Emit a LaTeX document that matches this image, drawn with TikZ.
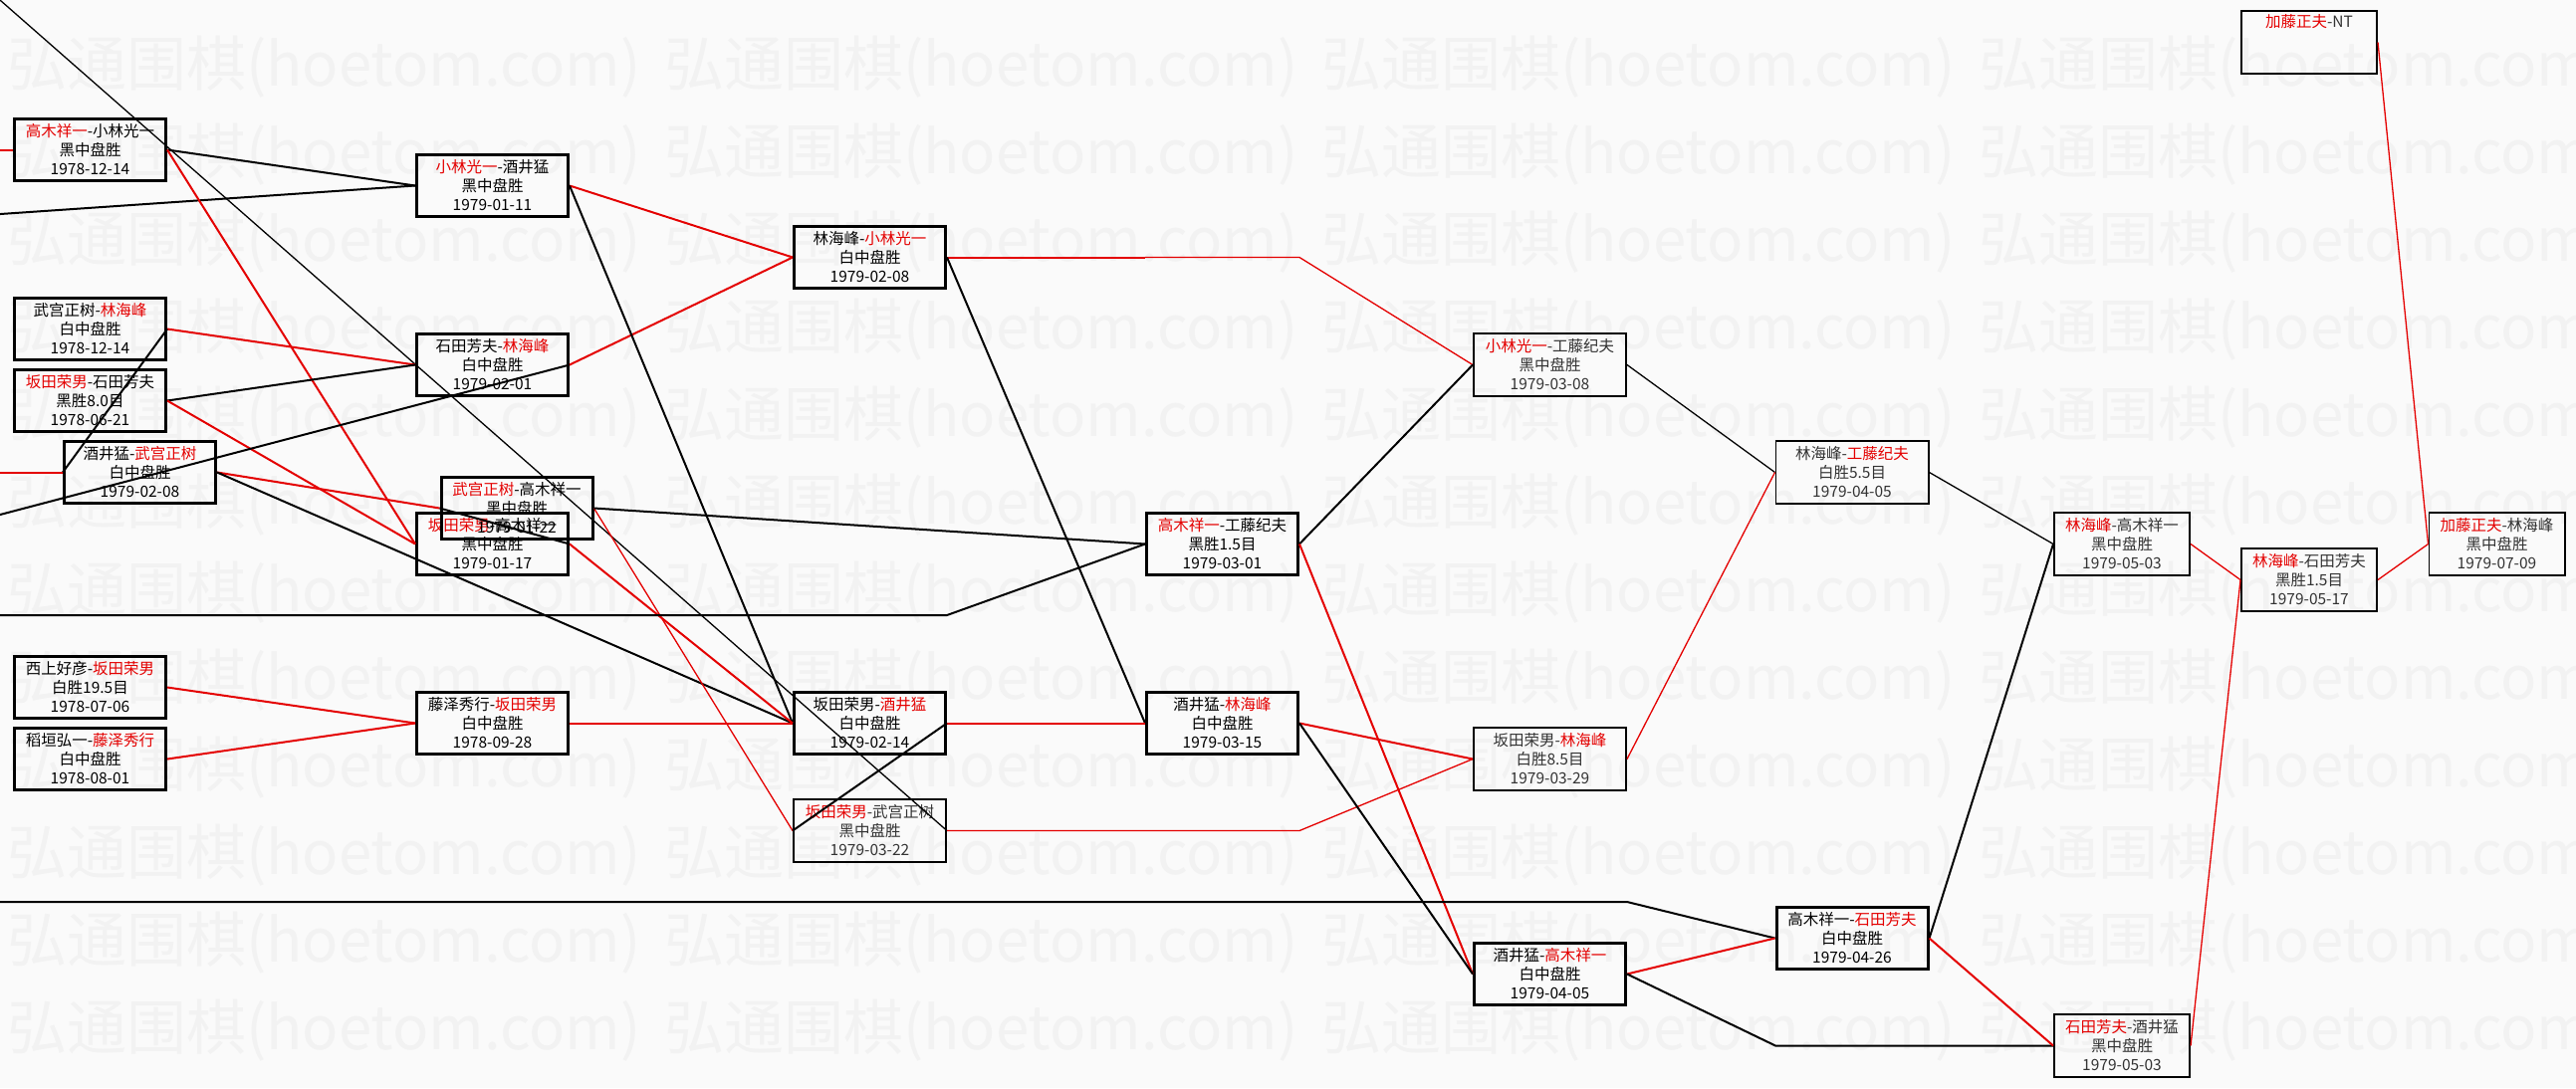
\documentclass[tikz,border=0pt]{standalone}
\usepackage{fontspec}
\setmainfont{Noto Sans CJK SC}
\definecolor{hred}{RGB}{228,0,0}
\definecolor{pagebg}{RGB}{250,250,250}
\definecolor{wmgray}{RGB}{242,242,242}
\newcommand\winner[1]{\textcolor{hred}{#1}}
\tikzset{
  game/.style={draw=black, line width=3pt, minimum width=152pt, minimum height=62pt,
    inner sep=0pt, align=center, font=\fontsize{15.5}{19}\selectfont},
  gamethin/.style={game, line width=1.6pt, text=black!80, minimum width=153.4pt, minimum height=63.4pt},
  narrow/.style={minimum width=136.4pt},
  winline/.style={hred, line width=2pt},
  loseline/.style={black, line width=2pt},
  winthin/.style={hred, line width=1.3pt},
  losethin/.style={black, line width=1.3pt},
  wmark/.style={wmgray, font=\fontsize{60}{60}\selectfont, inner sep=0pt, anchor=west}
}
\begin{document}
\begin{tikzpicture}[x=1pt,y=-1pt]
  \useasboundingbox (0,0) rectangle (2587,1093);
  \clip (0,0) rectangle (2587,1093);
  \fill[pagebg] (0,0) rectangle (2587,1093);
  \foreach \row in {0,...,11}
    \foreach \col in {0,...,3}
      \node[wmark] (wm-\row-\col) at ({7+660*\col},{67+88*\row}) {弘通围棋(hoetom.com)};

  \node[game] (g01) at (90.5,150.5) {\winner{高木祥一}-小林光一\\黑中盘胜\\1978-12-14};
  \node[game] (g02) at (90.5,330.5) {武宫正树-\winner{林海峰}\\白中盘胜\\1978-12-14};
  \node[game] (g03) at (90.5,402.5) {\winner{坂田荣男}-石田芳夫\\黑胜8.0目\\1978-06-21};
  \node[game] (g04) at (140.5,474.5) {酒井猛-\winner{武宫正树}\\白中盘胜\\1979-02-08};
  \node[game] (g05) at (90.5,690.5) {西上好彦-\winner{坂田荣男}\\白胜19.5目\\1978-07-06};
  \node[game] (g06) at (90.5,762.5) {稻垣弘一-\winner{藤泽秀行}\\白中盘胜\\1978-08-01};
  \node[game] (g07) at (494.5,186.5) {\winner{小林光一}-酒井猛\\黑中盘胜\\1979-01-11};
  \node[game] (g08) at (494.5,366.5) {石田芳夫-\winner{林海峰}\\白中盘胜\\1979-02-01};
  \node[game] (g09) at (494.5,546.5) {\winner{坂田荣男}-高木祥一\\黑中盘胜\\1979-01-17};
  \node[game] (g10) at (519,510.5) {\winner{武宫正树}-高木祥一\\黑中盘胜\\1979-01-22};
  \node[game] (g11) at (494.5,726.5) {藤泽秀行-\winner{坂田荣男}\\白中盘胜\\1978-09-28};
  \node[game] (g12) at (873.5,258.5) {林海峰-\winner{小林光一}\\白中盘胜\\1979-02-08};
  \node[game] (g13) at (873.5,726.5) {坂田荣男-\winner{酒井猛}\\白中盘胜\\1979-02-14};
  \node[gamethin] (g14) at (873.5,834.5) {\winner{坂田荣男}-武宫正树\\黑中盘胜\\1979-03-22};
  \node[game] (g15) at (1227.5,546.5) {\winner{高木祥一}-工藤纪夫\\黑胜1.5目\\1979-03-01};
  \node[game] (g16) at (1227.5,726.5) {酒井猛-\winner{林海峰}\\白中盘胜\\1979-03-15};
  \node[gamethin] (g17) at (1556.5,366.5) {\winner{小林光一}-工藤纪夫\\黑中盘胜\\1979-03-08};
  \node[gamethin] (g18) at (1556.5,762.5) {坂田荣男-\winner{林海峰}\\白胜8.5目\\1979-03-29};
  \node[game] (g19) at (1556.5,978.5) {酒井猛-\winner{高木祥一}\\白中盘胜\\1979-04-05};
  \node[gamethin] (g20) at (1860,474.5) {林海峰-\winner{工藤纪夫}\\白胜5.5目\\1979-04-05};
  \node[game] (g21) at (1860,942.5) {高木祥一-\winner{石田芳夫}\\白中盘胜\\1979-04-26};
  \node[gamethin,narrow] (g22) at (2131,546.5) {\winner{林海峰}-高木祥一\\黑中盘胜\\1979-05-03};
  \node[gamethin,narrow] (g23) at (2131,1050.5) {\winner{石田芳夫}-酒井猛\\黑中盘胜\\1979-05-03};
  \node[gamethin,narrow] (g24) at (2319,582.5) {\winner{林海峰}-石田芳夫\\黑胜1.5目\\1979-05-17};
  \node[gamethin,narrow] (g25) at (2507.5,546.5) {\winner{加藤正夫}-林海峰\\黑中盘胜\\1979-07-09};
  \node[gamethin,narrow] (g26) at (2319,42.5) {\winner{加藤正夫}-NT\\\strut\\\strut};

  \coordinate (in1) at (-20,150.5);
  \coordinate (in2) at (-20,216.4);
  \coordinate (in3) at (-20,-17.5);
  \coordinate (in4) at (-20,474.5);
  \coordinate (in5) at (-20,522.3);
  \coordinate (in6) at (-20,618);
  \coordinate (in7) at (-20,906);
  \coordinate (bend1) at (1150,258.5);
  \coordinate (bend2) at (1305,258.5);
  \coordinate (bend3) at (1305,834.5);
  \coordinate (bend4) at (1783,1050.5);
  \coordinate (bend6) at (951,618);
  \coordinate (bend7) at (1634,906);

  \draw[winline] (in1) -- (g01.west);
  \draw[loseline] (in2) -- (g07.west);
  \draw[loseline] (g01.east) -- (g07.west);
  \draw[winline] (g01.east) -- (g09.west);
  \draw[losethin] (g14.east) -- (in3);
  \draw[winline] (g02.east) -- (g08.west);
  \draw[loseline] (g02.east) -- (g04.west);
  \draw[loseline] (g03.east) -- (g08.west);
  \draw[winline] (g03.east) -- (g09.west);
  \draw[winline] (in4) -- (g04.west);
  \draw[loseline] (g08.east) -- (in5);
  \draw[winline] (g08.east) -- (g12.west);
  \draw[winline] (g07.east) -- (g12.west);
  \draw[loseline] (g07.east) -- (g13.west);
  \draw[winline] (g04.east) -- (g10.west);
  \draw[loseline] (g04.east) -- (g13.west);
  \draw[winline] (g09.east) -- (g13.west);
  \draw[loseline] (g09.east) -- (g10.west);
  \draw[winthin] (g10.east) -- (g14.west);
  \draw[loseline] (g10.east) -- (g15.west);
  \draw[loseline] (in6) -- (bend6) -- (g15.west);
  \draw[winline] (g11.east) -- (g13.west);
  \draw[winline] (g05.east) -- (g11.west);
  \draw[winline] (g06.east) -- (g11.west);
  \draw[winline] (g12.east) -- (bend1);
  \draw[winthin] (bend1) -- (bend2) -- (g17.west);
  \draw[loseline] (g12.east) -- (g16.west);
  \draw[loseline] (g15.east) -- (g17.west);
  \draw[winline] (g15.east) -- (g19.west);
  \draw[winline] (g13.east) -- (g16.west);
  \draw[loseline] (g13.east) -- (g14.west);
  \draw[winthin] (g14.east) -- (bend3) -- (g18.west);
  \draw[winline] (g16.east) -- (g18.west);
  \draw[loseline] (g16.east) -- (g19.west);
  \draw[losethin] (g17.east) -- (g20.west);
  \draw[winthin] (g18.east) -- (g20.west);
  \draw[loseline] (in7) -- (bend7) -- (g21.west);
  \draw[winline] (g19.east) -- (g21.west);
  \draw[loseline] (g19.east) -- (bend4) -- (g23.west);
  \draw[losethin] (g20.east) -- (g22.west);
  \draw[loseline] (g21.east) -- (g22.west);
  \draw[winline] (g21.east) -- (g23.west);
  \draw[winthin] (g23.east) -- (g24.west);
  \draw[winthin] (g22.east) -- (g24.west);
  \draw[winthin] (g24.east) -- (g25.west);
  \draw[winthin] (g26.east) -- (g25.west);
\end{tikzpicture}
\end{document}
